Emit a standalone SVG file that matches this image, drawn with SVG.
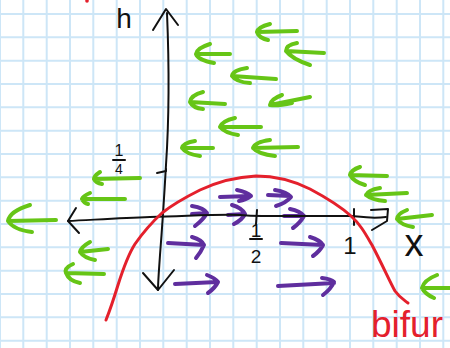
<svg xmlns="http://www.w3.org/2000/svg" width="450" height="348" viewBox="0 0 450 348">
<style>
.grid{stroke:#cde6f7;stroke-width:2;fill:none}
.ax{stroke:#111;stroke-width:2;fill:none;stroke-linecap:round;stroke-linejoin:round}
.g{stroke:#66c516;stroke-width:4;fill:none;stroke-linecap:round;stroke-linejoin:round}
.p{stroke:#5f2e9e;stroke-width:4;fill:none;stroke-linecap:round;stroke-linejoin:round}
.r{stroke:#e4202c;stroke-width:3;fill:none;stroke-linecap:round;stroke-linejoin:round}
.t{font-family:"Liberation Sans",Arial,sans-serif;fill:#111;text-anchor:middle}
</style>
<rect width="450" height="348" fill="#fff"/>
<g id="grid">
<path class="grid" d="M0,0V348M23.3,0V348M46.7,0V348M70,0V348M93.3,0V348M116.7,0V348M140,0V348M163.3,0V348M186.7,0V348M210,0V348M233.3,0V348M256.7,0V348M280,0V348M303.3,0V348M326.7,0V348M350,0V348M373.3,0V348M396.7,0V348M420,0V348M443.3,0V348"/>
<path class="grid" d="M0,14H450M0,37.3H450M0,60.7H450M0,84H450M0,107.3H450M0,130.7H450M0,154H450M0,177.3H450M0,200.7H450M0,224H450M0,247.3H450M0,270.7H450M0,294H450M0,317.3H450M0,340.7H450"/>
</g>
<g id="green-arrows" class="g">
<path d="M230,54L196,54M210,44Q197,48 196,54Q198,60 214,63"/>
<path d="M297,31L257,32M270,24Q258,27 257,32Q259,38 268,40"/>
<path d="M324,53L286,51M297,43Q286,45 286,51Q292,59 310,65"/>
<path d="M276,79L232,76M247,68Q233,70 232,76Q236,82 250,83"/>
<path d="M225,104L190,102M203,92Q191,95 190,102Q193,108 203,109"/>
<path d="M310,97L270,105M282,95Q271,99 270,105Q278,106 292,103"/>
<path d="M261,127L220,127M235,118Q222,121 220,127Q225,133 238,135"/>
<path d="M298,147L253,148M270,140Q255,142 253,148Q258,154 275,156"/>
<path d="M213,148L182,148M195,141Q183,143 182,148Q186,154 200,156"/>
<path d="M140,178L94,179M100,172Q94,176 94,179Q96,183 102,184"/>
<path d="M125,199L82,199M90,193Q83,196 82,199Q84,203 88,204"/>
<path d="M56,220L8,221M30,205Q10,211 8,221Q14,230 32,232"/>
<path d="M108,249L80,252M90,242Q81,247 80,252Q84,258 95,260"/>
<path d="M104,274L66,273M73,264Q64,268 66,273Q69,281 80,283"/>
<path d="M387,176L350,175M360,167Q351,170 350,175Q354,182 365,185"/>
<path d="M407,193L366,195M380,188Q368,190 366,195Q372,200 385,201"/>
<path d="M432,215L397,219M407,210Q397,214 397,219Q401,225 413,227"/>
<path d="M452,288L422,288M437,275Q424,280 422,288Q425,294 434,298"/>
</g>
<g id="purple-arrows" class="p">
<path d="M220,197L250,196M237,190Q247,192 251,196Q246,200 239,201"/>
<path d="M268,195L290,196M275,190Q287,192 291,197Q286,203 276,206"/>
<path d="M192,214L207,213M192,206Q204,208 207,213Q203,220 195,226"/>
<path d="M228,215L245,214M232,205Q242,208 245,214Q242,220 234,224"/>
<path d="M284,216L304,216M290,209Q300,211 304,216Q300,223 293,228"/>
<path d="M168,243L204,245M192,237Q202,240 204,245Q201,252 196,258"/>
<path d="M281,243L323,245M310,237Q320,240 323,245Q320,251 313,256"/>
<path d="M175,284L217,282M207,275Q215,278 218,282Q215,288 208,293"/>
<path d="M278,286L334,283M322,278Q331,279 334,282Q331,289 323,295"/>
</g>
<g id="axes" class="ax">
<path d="M167,13C169,60 169,120 166,165C164,200 162,230 160,255C159,270 158,282 158,290"/>
<path d="M153,30L166,9L178,25"/>
<path d="M143,273L158,290L174,270"/>
<path d="M68,221C90,220 120,218 150,217C190,216 220,214 240,215C250,216 255,216 262,216C300,216 330,216 352,216C362,217 372,219 386,217"/>
<path d="M76,208L68,221L79,233"/>
<path d="M371,210L388,209L387,221L372,230"/>
<path d="M157,173L166,171L166,169"/>
<path d="M257,210L256,224"/>
<path d="M354,209L354,225"/>
<path d="M113,160L125,160"/>
<path d="M250,239L262,239"/>
</g>
<g id="red-curve">
<path class="r" d="M106,320C110,310 114,298 118,285C124,266 128,255 135,244C142,234 150,224 162,213C172,205 184,198 200,190C215,183 235,177 256,176C275,176 292,180 310,189C325,197 340,206 351,216C360,224 365,233 372,245C382,264 390,282 395,291C400,298 404,300 408,303"/>
<circle cx="87" cy="1" r="1.8" fill="#e4202c"/>
</g>
<g id="labels">
<text class="t" x="124" y="28" font-size="28">h</text>
<text class="t" x="119" y="156" font-size="16">1</text>
<text class="t" x="119" y="174" font-size="14">4</text>
<text class="t" x="256" y="237" font-size="19">1</text>
<text class="t" x="256" y="263" font-size="19">2</text>
<text class="t" x="350" y="254" font-size="24">1</text>
<text class="t" x="414" y="256" font-size="38">x</text>
<text x="371" y="337" font-size="37" fill="#e4202c" font-family="Liberation Sans, Arial, sans-serif">bifur</text>
</g>
</svg>
